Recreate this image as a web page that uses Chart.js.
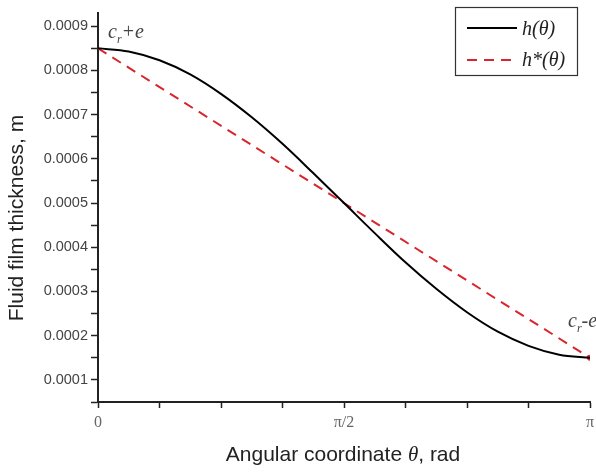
<!DOCTYPE html>
<html>
<head>
<meta charset="utf-8">
<script src="https://cdn.jsdelivr.net/npm/chart.js@4.4.1/dist/chart.umd.min.js"></script>
<style>
  html, body { margin: 0; padding: 0; background: #fff; }
  #wrap { width: 596px; height: 474px; position: relative; }
</style>
</head>
<body>
<div id="wrap"><canvas id="grafico"></canvas></div>
<script>
// angulo theta en rad
const theta = [0, 0.196, 0.393, 0.589, 0.785, 0.982, 1.178, 1.374, 1.571,
  1.767, 1.963, 2.160, 2.356, 2.553, 2.749, 2.945, 3.1416];
// h(theta), linea negra
const hValues = [0.00085, 0.000843, 0.000823, 0.000791, 0.000747, 0.000694, 0.000634, 0.000568, 0.0005,
  0.000432, 0.000366, 0.000306, 0.000253, 0.000209, 0.000177, 0.000157, 0.00015];
// h*(theta), recta roja
const hStarTheta = [0, 3.1416];
const hStarValues = [0.00085, 0.00015];

const yTicks = [0.00005, 0.0001, 0.00015, 0.0002, 0.00025, 0.0003, 0.00035, 0.0004, 0.00045,
  0.0005, 0.00055, 0.0006, 0.00065, 0.0007, 0.00075, 0.0008, 0.00085, 0.0009];
const yLabels = ["0.0001", "0.0002", "0.0003", "0.0004", "0.0005", "0.0006", "0.0007", "0.0008", "0.0009"];
const xTicks = [0, 0.3927, 0.7854, 1.1781, 1.5708, 1.9635, 2.3562, 2.7489, 3.1416];
const xLabels = { 0: "0", 4: "\u03c0/2", 8: "\u03c0" };

const legendNames = ["h(\u03b8)", "h*(\u03b8)"];
const yTitle = "Fluid film thickness, m";

const hData = theta.map((t, i) => ({ x: t, y: hValues[i] }));
const hStarData = hStarTheta.map((t, i) => ({ x: t, y: hStarValues[i] }));

const RED = "#d8262e";

// leyenda, titulos y anotaciones
const extras = {
  id: "extras",
  afterDraw(chart) {
    const ctx = chart.ctx;
    const xs = chart.scales.x;
    const ys = chart.scales.y;
    ctx.save();

    // caja de leyenda
    ctx.strokeStyle = "#333";
    ctx.lineWidth = 1.2;
    ctx.strokeRect(455.5, 7.5, 122, 68);
    ctx.lineWidth = 2;
    ctx.strokeStyle = "#000";
    ctx.setLineDash([]);
    ctx.beginPath(); ctx.moveTo(467, 28); ctx.lineTo(517, 28); ctx.stroke();
    ctx.strokeStyle = RED;
    ctx.setLineDash([10, 7]);
    ctx.beginPath(); ctx.moveTo(467, 60); ctx.lineTo(517, 60); ctx.stroke();
    ctx.setLineDash([]);
    ctx.fillStyle = "#222";
    ctx.font = "italic 20px 'Liberation Serif'";
    ctx.textBaseline = "middle";
    ctx.fillText(legendNames[0], 522, 30);
    ctx.fillText(legendNames[1], 522, 61);

    // titulo eje y
    ctx.save();
    ctx.translate(17, 218);
    ctx.rotate(-Math.PI / 2);
    ctx.textAlign = "center";
    ctx.font = "21px 'Liberation Sans'";
    ctx.fillText(yTitle, 0, 0);
    ctx.restore();

    // titulo eje x con theta en cursiva
    const y0 = 455;
    ctx.textBaseline = "middle";
    ctx.textAlign = "left";
    const p1 = "Angular coordinate ";
    const p2 = "\u03b8";
    const p3 = ", rad";
    ctx.font = "21px 'Liberation Sans'";
    const w1 = ctx.measureText(p1).width;
    const w3 = ctx.measureText(p3).width;
    ctx.font = "italic 21px 'Liberation Serif'";
    const w2 = ctx.measureText(p2).width;
    let x0 = 343 - (w1 + w2 + w3) / 2;
    ctx.font = "21px 'Liberation Sans'";
    ctx.fillText(p1, x0, y0);
    ctx.font = "italic 21px 'Liberation Serif'";
    ctx.fillText(p2, x0 + w1, y0);
    ctx.font = "21px 'Liberation Sans'";
    ctx.fillText(p3, x0 + w1 + w2, y0);

    // anotaciones c_r+e y c_r-e
    const drawCr = (x, y, sign) => {
      ctx.fillStyle = "#444";
      ctx.textBaseline = "alphabetic";
      ctx.font = "italic 20px 'Liberation Serif'";
      ctx.fillText("c", x, y);
      const wc = ctx.measureText("c").width;
      ctx.font = "italic 12px 'Liberation Serif'";
      ctx.fillText("r", x + wc, y + 5);
      const wr = ctx.measureText("r").width;
      ctx.font = "italic 20px 'Liberation Serif'";
      ctx.fillText(sign + "e", x + wc + wr, y);
    };
    drawCr(xs.getPixelForValue(hStarTheta[0]) + 10, ys.getPixelForValue(hStarValues[0]) - 10, "+");
    drawCr(xs.getPixelForValue(hStarTheta[1]) - 22, ys.getPixelForValue(hStarValues[1]) - 31, "-");

    ctx.restore();
  }
};

new Chart(document.getElementById("grafico"), {
  type: "scatter",
  data: {
    datasets: [
      {
        label: legendNames[0],
        data: hData,
        showLine: true,
        borderColor: "#000",
        borderWidth: 2,
        pointRadius: 0,
        cubicInterpolationMode: "monotone",
        order: 1
      },
      {
        label: legendNames[1],
        data: hStarData,
        showLine: true,
        borderColor: RED,
        backgroundColor: RED,
        borderWidth: 2,
        borderDash: [10, 7],
        pointRadius: [0, 2],
        order: 2
      }
    ]
  },
  options: {
    responsive: true,
    maintainAspectRatio: false,
    animation: false,
    layout: { padding: { top: 13, right: 6, left: 0, bottom: 0 } },
    plugins: {
      legend: { display: false },
      tooltip: { enabled: false }
    },
    scales: {
      x: {
        type: "linear",
        min: 0,
        max: 3.1416,
        afterBuildTicks: (axis) => { axis.ticks = xTicks.map(v => ({ value: v })); },
        afterFit: (axis) => { axis.height = 72; axis.paddingRight = 0; axis.paddingLeft = 0; },
        border: { color: "#222", width: 2 },
        grid: { drawOnChartArea: false, tickLength: 6, tickColor: "#222", tickWidth: 1.5 },
        ticks: {
          color: "#666",
          font: { family: "'Liberation Serif'", size: 16 },
          padding: 5,
          maxRotation: 0,
          autoSkip: false,
          callback: (v, i) => xLabels[i] || ""
        }
      },
      y: {
        type: "linear",
        min: 0.00005,
        max: 0.00093,
        afterBuildTicks: (axis) => { axis.ticks = yTicks.map(v => ({ value: v })); },
        afterFit: (axis) => { axis.width = 98; },
        border: { color: "#222", width: 2 },
        grid: { drawOnChartArea: false, tickLength: 7, tickColor: "#222", tickWidth: 1.5 },
        ticks: {
          color: "#444",
          font: { family: "'Liberation Sans'", size: 14.5 },
          padding: 3,
          autoSkip: false,
          callback: (v, i) => (i % 2 === 1 ? yLabels[(i - 1) / 2] : "")
        }
      }
    }
  },
  plugins: [extras]
});
</script>
</body>
</html>
